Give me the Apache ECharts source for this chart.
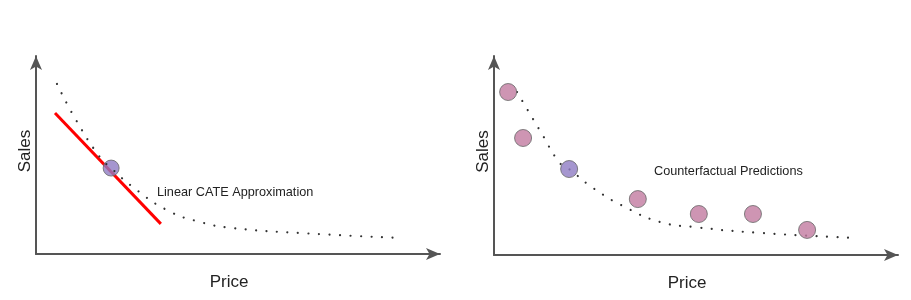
<!DOCTYPE html>
<html><head><meta charset="utf-8">
<script src="https://cdn.jsdelivr.net/npm/echarts@6/dist/echarts.min.js"></script>
<style>html,body{margin:0;padding:0;background:#fff}#c{width:911px;height:300px}</style>
</head><body><div id="c"></div>
<script>
// Left panel: demand curve, CATE linear approximation
const leftCurve = [[5.2,85.9],[9.9,67.7],[15.8,49.0],[18.6,43.4],[24.0,33.8],[32.4,22.2],[40.6,16.2],[48.8,13.1],[65.3,10.6],[90.1,8.1]];
const leftTangent = [[4.7,71.2],[30.9,15.2]];
const leftObserved = [[18.6,43.4]];
// Right panel: demand curve, counterfactual predictions
const rightCurve = [[5.7,81.9],[11.6,61.8],[16.3,46.2],[18.6,43.2],[24.5,33.7],[32.9,23.6],[41.1,16.6],[49.3,14.1],[65.8,11.1],[90.1,8.5]];
const rightObserved = [[18.6,43.2]];
const rightPredictions = [[3.5,81.9],[7.2,58.8],[35.6,28.1],[50.7,20.6],[64.1,20.6],[77.5,12.6]];
const xName = 'Price', yName = 'Sales';
const leftLabel = 'Linear CATE Approximation';
const rightLabel = 'Counterfactual Predictions';

const font = 'Liberation Sans, Arial, sans-serif';
const axisColor = '#555';
function xAx(i){return {gridIndex:i,type:'value',min:0,max:100,name:xName,nameLocation:'middle',nameGap:20,
  nameTextStyle:{fontFamily:font,fontSize:17,color:'#222',padding:[0,18,0,0]},
  axisLine:{show:true,symbol:['none','arrow'],symbolSize:[9,14],lineStyle:{color:axisColor,width:2}},
  axisTick:{show:false},axisLabel:{show:false},splitLine:{show:false}};}
function yAx(i){return {gridIndex:i,type:'value',min:0,max:100,name:yName,nameLocation:'middle',nameGap:2,
  nameTextStyle:{fontFamily:font,fontSize:17,color:'#222',padding:[0,0,0,8]},
  axisLine:{show:true,symbol:['none','arrow'],symbolSize:[9,14],lineStyle:{color:axisColor,width:2}},
  axisTick:{show:false},axisLabel:{show:false},splitLine:{show:false}};}
const dotted = {color:'#333',width:2.2,type:[0.01,10.5],cap:'round'};
const chart = echarts.init(document.getElementById('c'));
chart.setOption({
  animation:false,
  grid:[{left:36,top:56,width:404,height:198},{left:494,top:56,width:404,height:199}],
  xAxis:[xAx(0),xAx(1)],
  yAxis:[yAx(0),yAx(1)],
  series:[
    {type:'line',xAxisIndex:0,yAxisIndex:0,data:leftTangent,symbol:'none',lineStyle:{color:'#ff0000',width:3},z:2},
    {type:'scatter',xAxisIndex:0,yAxisIndex:0,data:leftObserved,symbolSize:16,itemStyle:{color:'#8e7cc3',borderColor:'#666',borderWidth:1},z:3},
    {type:'line',xAxisIndex:0,yAxisIndex:0,data:leftCurve,smooth:true,symbol:'none',lineStyle:dotted,z:4},
    {type:'scatter',xAxisIndex:1,yAxisIndex:1,data:rightPredictions,symbolSize:17,itemStyle:{color:'#c27ba0',borderColor:'#666',borderWidth:1},z:3},
    {type:'scatter',xAxisIndex:1,yAxisIndex:1,data:rightObserved,symbolSize:17,itemStyle:{color:'#8e7cc3',borderColor:'#666',borderWidth:1},z:3},
    {type:'line',xAxisIndex:1,yAxisIndex:1,data:rightCurve,smooth:true,symbol:'none',lineStyle:dotted,z:2}
  ],
  graphic:[
    {type:'text',left:157,top:186,style:{text:leftLabel,font:'12.7px '+font,fill:'#222'}},
    {type:'text',left:654,top:165,style:{text:rightLabel,font:'12.7px '+font,fill:'#222'}}
  ]
});
</script></body></html>
